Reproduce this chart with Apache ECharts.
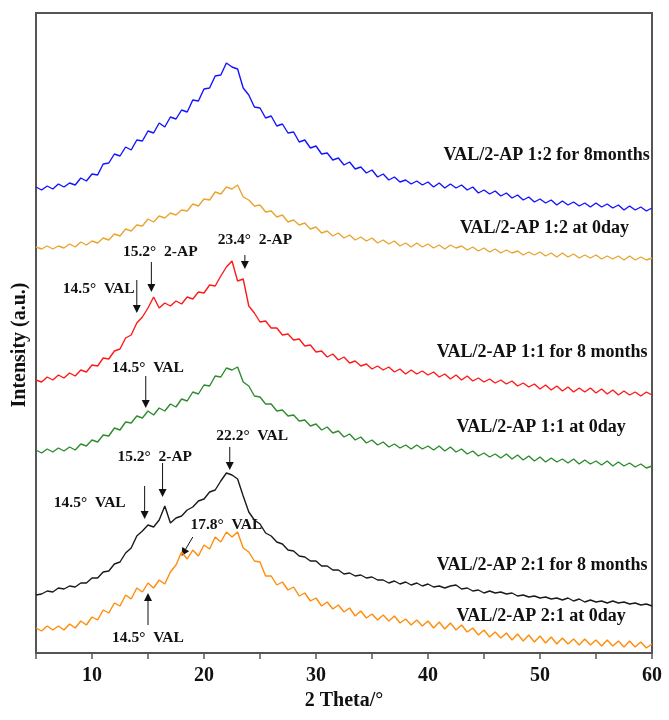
<!DOCTYPE html>
<html>
<head>
<meta charset="utf-8">
<script src="https://cdn.jsdelivr.net/npm/echarts@6/dist/echarts.min.js"></script>
<style>
  html, body { margin: 0; padding: 0; background: #fff; }
  #xrd { width: 669px; height: 720px; }
</style>
</head>
<body>
<div id="xrd"></div>
<script>
// 2 theta grid (degrees)
var twoTheta = [5, 5.5, 6, 6.5, 7, 7.5, 8, 8.5, 9, 9.5, 10, 10.5, 11, 11.5, 12, 12.5, 13, 13.5, 14, 14.5,
    15, 15.5, 16, 16.5, 17, 17.5, 18, 18.5, 19, 19.5, 20, 20.5, 21, 21.5, 22, 22.5, 23, 23.5, 24, 24.5,
    25, 25.5, 26, 26.5, 27, 27.5, 28, 28.5, 29, 29.5, 30, 30.5, 31, 31.5, 32, 32.5, 33, 33.5, 34, 34.5,
    35, 35.5, 36, 36.5, 37, 37.5, 38, 38.5, 39, 39.5, 40, 40.5, 41, 41.5, 42, 42.5, 43, 43.5, 44, 44.5,
    45, 45.5, 46, 46.5, 47, 47.5, 48, 48.5, 49, 49.5, 50, 50.5, 51, 51.5, 52, 52.5, 53, 53.5, 54, 54.5,
    55, 55.5, 56, 56.5, 57, 57.5, 58, 58.5, 59, 59.5, 60];

// intensities (a.u., curves already offset as stacked in the figure)
var val12_8m = [466, 463, 467, 464, 469, 466, 470, 468, 475, 472, 479, 478, 489, 490, 499, 497, 506, 503, 513, 512,
    522, 520, 530, 526, 536, 534, 543, 541, 553, 552, 564, 565, 577, 578, 590, 586, 584, 565, 558, 546,
    545, 535, 537, 527, 529, 520, 521, 511, 513, 505, 507, 499, 500, 493, 495, 488, 491, 484, 486, 480,
    483, 476, 479, 473, 476, 471, 473, 469, 472, 468, 471, 466, 470, 465, 469, 465, 468, 463, 466, 460,
    463, 459, 462, 457, 460, 455, 458, 453, 456, 451, 454, 450, 453, 448, 452, 448, 451, 447, 450, 446,
    450, 446, 449, 445, 448, 443, 447, 443, 446, 442, 445];
var val12_0d = [406, 404, 407, 404, 407, 405, 409, 406, 411, 408, 412, 410, 415, 413, 419, 417, 424, 422, 428, 427,
    434, 431, 437, 435, 440, 438, 443, 442, 449, 447, 454, 453, 461, 459, 466, 464, 468, 456, 453, 447,
    448, 441, 442, 436, 438, 431, 433, 428, 430, 424, 426, 420, 422, 417, 420, 415, 418, 413, 416, 412,
    415, 410, 413, 409, 412, 407, 410, 406, 410, 406, 409, 405, 408, 404, 408, 405, 407, 403, 406, 402,
    405, 401, 404, 400, 403, 400, 402, 398, 401, 398, 401, 397, 400, 396, 400, 396, 399, 395, 398, 395,
    398, 394, 397, 394, 397, 393, 397, 393, 396, 393, 395];
var val11_8m = [273, 271, 276, 273, 278, 275, 280, 277, 283, 281, 288, 287, 295, 294, 302, 304, 315, 318, 330, 336,
    345, 356, 345, 350, 347, 352, 349, 356, 354, 361, 360, 368, 367, 377, 386, 392, 372, 374, 347, 340,
    331, 332, 325, 325, 318, 319, 313, 314, 307, 308, 301, 302, 296, 299, 293, 296, 290, 292, 287, 289,
    284, 287, 283, 286, 281, 284, 279, 283, 279, 282, 278, 281, 276, 279, 274, 278, 273, 277, 272, 275,
    271, 274, 270, 273, 269, 272, 267, 270, 266, 269, 264, 268, 263, 267, 262, 266, 261, 265, 261, 265,
    260, 264, 259, 263, 258, 262, 258, 261, 257, 261, 258];
var val11_0d = [203, 200, 204, 201, 205, 202, 206, 203, 209, 207, 213, 211, 218, 217, 225, 223, 231, 230, 237, 235,
    242, 238, 245, 242, 249, 246, 254, 252, 261, 259, 268, 267, 277, 276, 285, 283, 286, 271, 267, 257,
    256, 249, 249, 242, 243, 237, 238, 232, 233, 227, 229, 223, 226, 220, 222, 216, 219, 213, 216, 210,
    213, 208, 211, 206, 209, 205, 208, 204, 208, 204, 207, 203, 207, 202, 206, 201, 204, 199, 202, 197,
    200, 196, 199, 195, 199, 194, 198, 193, 197, 192, 196, 191, 195, 191, 194, 190, 194, 189, 193, 189,
    192, 188, 192, 187, 191, 187, 190, 186, 189, 185, 187];
var val21_8m = [58, 59, 62, 61, 65, 64, 67, 66, 70, 70, 75, 75, 81, 82, 89, 91, 100, 105, 117, 122,
    128, 126, 133, 147, 130, 135, 137, 143, 146, 152, 154, 161, 163, 172, 180, 178, 174, 157, 141, 133,
    129, 120, 117, 111, 109, 103, 102, 97, 96, 92, 92, 87, 87, 83, 83, 79, 80, 77, 78, 75,
    76, 73, 73, 70, 72, 69, 71, 68, 70, 67, 69, 66, 67, 65, 67, 68, 64, 65, 62, 63,
    60, 62, 60, 61, 59, 60, 57, 58, 56, 57, 55, 56, 54, 55, 53, 55, 52, 54, 51, 53,
    51, 52, 50, 52, 50, 51, 49, 50, 48, 49, 47];
var val21_0d = [25, 22, 27, 23, 27, 23, 29, 25, 32, 28, 36, 33, 43, 40, 50, 47, 58, 54, 65, 61,
    70, 65, 73, 69, 81, 88, 101, 94, 103, 97, 108, 104, 116, 111, 121, 116, 121, 105, 101, 92,
    91, 77, 77, 68, 71, 63, 66, 57, 60, 52, 55, 47, 51, 44, 48, 41, 45, 37, 42, 35,
    39, 33, 38, 32, 37, 30, 34, 28, 33, 27, 32, 25, 31, 24, 30, 23, 28, 21, 25, 18,
    23, 16, 21, 15, 20, 13, 19, 12, 18, 11, 17, 10, 16, 9, 15, 9, 14, 8, 14, 8,
    13, 7, 13, 7, 12, 6, 12, 6, 11, 5, 9];

var seriesNames = ['VAL/2-AP 1:2 for 8months', 'VAL/2-AP 1:2 at 0day', 'VAL/2-AP 1:1 for 8 months',
    'VAL/2-AP 1:1 at 0day', 'VAL/2-AP 2:1 for 8 months', 'VAL/2-AP 2:1 at 0day'];
var seriesValues = [val12_8m, val12_0d, val11_8m, val11_0d, val21_8m, val21_0d];
var seriesColors = ['#1414ff', '#e8a532', '#ff1a1a', '#2e8b2e', '#1a1a1a', '#ff8c0a'];

// curve captions: [2theta, intensity, align]
var captionPos = [[59.8, 498, 'right'], [50.4, 425, 'center'], [59.6, 301, 'right'],
    [50.1, 226, 'center'], [59.6, 88, 'right'], [50.1, 37, 'center']];

// peak notes: text anchor (2theta, intensity) and arrow from -> to
var peakNotes = [
    {text: '15.2°  2-AP', at: [16.1, 401], from: [15.3, 391], to: [15.3, 361]},
    {text: '23.4°  2-AP', at: [24.55, 413], from: [23.65, 398], to: [23.65, 384]},
    {text: '14.5°  VAL', at: [10.6, 364], from: [14.0, 373], to: [14.0, 340]},
    {text: '14.5°  VAL', at: [15.0, 285], from: [14.8, 277], to: [14.8, 245]},
    {text: '15.2°  2-AP', at: [15.6, 196], from: [16.3, 190], to: [16.3, 156]},
    {text: '22.2°  VAL', at: [24.3, 217], from: [22.3, 206], to: [22.3, 183]},
    {text: '14.5°  VAL', at: [9.8, 150], from: [14.7, 167], to: [14.7, 134]},
    {text: '17.8°  VAL', at: [22.0, 128], from: [19.0, 116], to: [18.0, 97]},
    {text: '14.5°  VAL', at: [15.0, 15], from: [15.0, 28], to: [15.0, 60]}
];

var serif = '"Liberation Serif", "Times New Roman", serif';

var xrdChart = echarts.init(document.getElementById('xrd'), null, {renderer: 'canvas'});

var series = seriesValues.map(function (vals, i) {
    return {
        name: seriesNames[i],
        type: 'line',
        data: twoTheta.map(function (t, j) { return [t, vals[j]]; }),
        symbol: 'none',
        lineStyle: {color: seriesColors[i], width: 1.4},
        silent: true
    };
});

var xrdOption = {
    animation: false,
    backgroundColor: '#fff',
    grid: {
        left: 36,
        right: 17,
        top: 13,
        bottom: 67,
        show: true,
        borderColor: '#555',
        borderWidth: 2
    },
    xAxis: {
        type: 'value',
        min: 5,
        max: 60,
        interval: 5,
        name: '2 Theta/°',
        nameLocation: 'middle',
        nameGap: 36,
        nameTextStyle: {fontFamily: serif, fontWeight: 'bold', fontSize: 20, color: '#111'},
        axisLine: {lineStyle: {color: '#555', width: 2}},
        axisTick: {inside: false, length: 6, lineStyle: {color: '#555', width: 1.5}},
        splitLine: {show: false},
        axisLabel: {
            margin: 13,
            fontFamily: serif,
            fontWeight: 'bold',
            fontSize: 20,
            color: '#111',
            formatter: function (v) { return v % 10 === 0 ? String(v) : ''; }
        }
    },
    yAxis: {
        type: 'value',
        min: 0,
        max: 640,
        axisLine: {show: false},
        axisTick: {show: false},
        axisLabel: {show: false},
        splitLine: {show: false}
    },
    series: series
};
xrdChart.setOption(xrdOption);

// captions, peak labels, arrows
function px(p) { return xrdChart.convertToPixel({gridIndex: 0}, p); }

var gfx = [];
captionPos.forEach(function (c, i) {
    var p = px([c[0], c[1]]);
    gfx.push({
        type: 'text', x: p[0], y: p[1], silent: true,
        style: {text: seriesNames[i], fill: '#111', font: 'bold 18px ' + serif,
            textAlign: c[2], textVerticalAlign: 'middle'}
    });
});
peakNotes.forEach(function (n) {
    var p = px(n.at), a = px(n.from), b = px(n.to);
    gfx.push({
        type: 'text', x: p[0], y: p[1], silent: true,
        style: {text: n.text, fill: '#111', font: 'bold 15.5px ' + serif,
            textAlign: 'center', textVerticalAlign: 'middle'}
    });
    var dx = b[0] - a[0], dy = b[1] - a[1], len = Math.sqrt(dx * dx + dy * dy);
    var ux = dx / len, uy = dy / len, hl = 8, hw = 4;
    var bx = b[0] - ux * hl, by = b[1] - uy * hl;
    gfx.push({
        type: 'line', silent: true,
        shape: {x1: a[0], y1: a[1], x2: bx, y2: by},
        style: {stroke: '#111', lineWidth: 1}
    });
    gfx.push({
        type: 'polygon', silent: true,
        shape: {points: [[b[0], b[1]], [bx - uy * hw, by + ux * hw], [bx + uy * hw, by - ux * hw]]},
        style: {fill: '#111'}
    });
});
// y axis title
gfx.push({
    type: 'text', x: 20, y: 345, rotation: Math.PI / 2, silent: true,
    style: {text: 'Intensity (a.u.)', fill: '#111', font: 'bold 20px ' + serif,
        textAlign: 'center', textVerticalAlign: 'middle'}
});
xrdChart.setOption({graphic: {elements: gfx}});
</script>
</body>
</html>
